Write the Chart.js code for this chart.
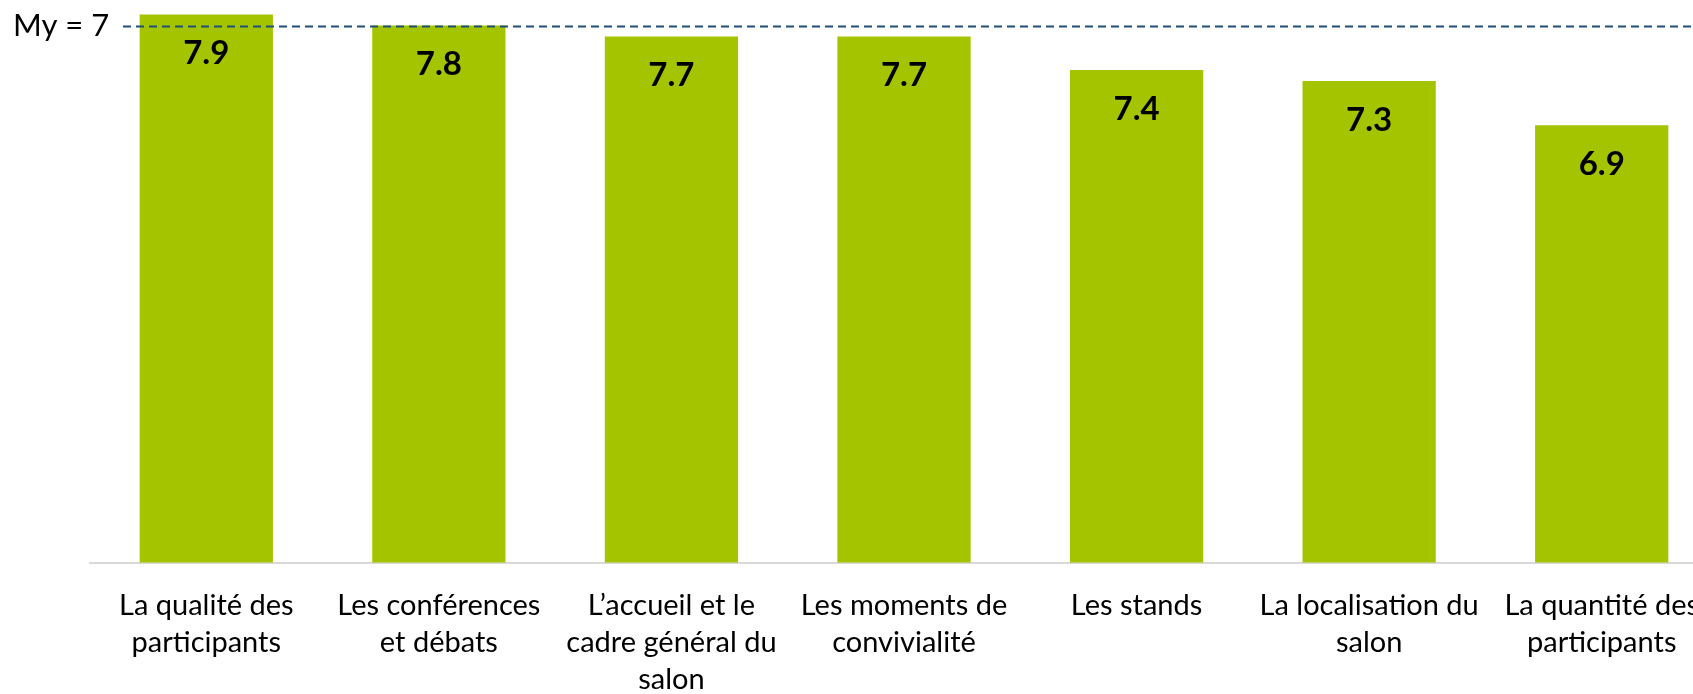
<!DOCTYPE html>
<html>
<head>
<meta charset="utf-8">
<script src="https://cdn.jsdelivr.net/npm/chart.js@4.4.1/dist/chart.umd.min.js"></script>
<style>
  html, body { margin: 0; padding: 0; background: #ffffff; overflow: hidden; width: 1693px; height: 694px; }
  #wrap { position: absolute; left: 0; top: 0; width: 1724px; height: 694px; }
  canvas { display: block; }
</style>
</head>
<body>
<div id="wrap"><canvas id="c" width="1724" height="694"></canvas></div>
<script>
// ---- data ----
const categories = [
  ["La qualité des", "participants"],
  ["Les conférences", "et débats"],
  ["L’accueil et le", "cadre général du", "salon"],
  ["Les moments de", "convivialité"],
  ["Les stands"],
  ["La localisation du", "salon"],
  ["La quantité des", "participants"]
];
const scores = [7.9, 7.8, 7.7, 7.7, 7.4, 7.3, 6.9];
const meanLabel = "My = 7";
const meanLineValue = 7.8;
const yAxisMin = 2.96;
const yAxisMax = 8.03;

// ---- styles ----
const barColor = "#A5C400";
const labelFont = "Lato, 'Open Sans', sans-serif";

const overlayPlugin = {
  id: "overlay",
  afterDatasetsDraw(chart) {
    const ctx = chart.ctx;
    const meta = chart.getDatasetMeta(0);
    const yScale = chart.scales.y;
    ctx.save();
    // value labels inside bar tops
    ctx.fillStyle = "#000000";
    ctx.font = "bold 33px " + labelFont;
    ctx.textAlign = "center";
    ctx.textBaseline = "middle";
    meta.data.forEach((bar, i) => {
      ctx.fillText(scores[i].toFixed(1), bar.x, bar.y + 39);
    });
    // dashed mean line
    const yLine = Math.round(yScale.getPixelForValue(meanLineValue)) + 0.5;
    ctx.strokeStyle = "#1F4E79";
    ctx.lineWidth = 2;
    ctx.setLineDash([8, 5]);
    ctx.beginPath();
    ctx.moveTo(chart.chartArea.left + 33, yLine);
    ctx.lineTo(chart.width, yLine);
    ctx.stroke();
    ctx.setLineDash([]);
    // mean label
    ctx.font = "31px " + labelFont;
    ctx.textAlign = "left";
    ctx.fillText(meanLabel, 13, yLine - 1);
    ctx.restore();
  }
};

new Chart(document.getElementById("c"), {
  type: "bar",
  data: {
    labels: categories,
    datasets: [{
      data: scores,
      backgroundColor: barColor,
      borderWidth: 0,
      categoryPercentage: 1.0,
      barPercentage: 0.573
    }]
  },
  options: {
    responsive: false,
    devicePixelRatio: 1,
    animation: false,
    layout: { padding: { left: 90, right: 0, top: 0, bottom: 0 } },
    plugins: {
      legend: { display: false },
      tooltip: { enabled: false },
      title: { display: false }
    },
    scales: {
      x: {
        grid: { display: false, drawTicks: false },
        border: { display: true, color: "#D9D9D9", width: 2 },
        ticks: {
          color: "#000000",
          font: { family: labelFont, size: 29, lineHeight: 37 / 29 },
          padding: 25,
          maxRotation: 0,
          minRotation: 0,
          autoSkip: false
        },
        afterFit(scale) { scale.height = 131.5; }
      },
      y: {
        display: false,
        min: yAxisMin,
        max: yAxisMax
      }
    }
  },
  plugins: [overlayPlugin]
});
</script>
</body>
</html>
